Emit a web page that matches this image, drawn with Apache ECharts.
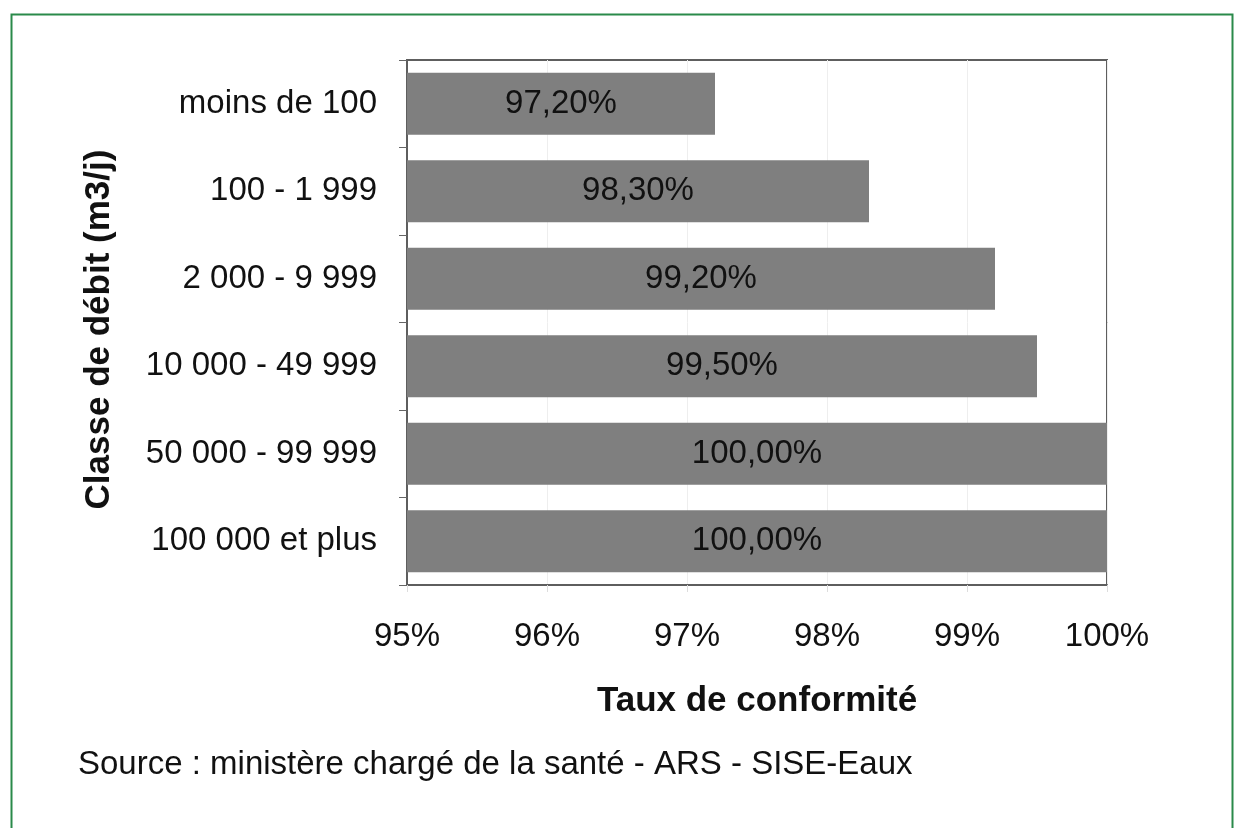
<!DOCTYPE html>
<html>
<head>
<meta charset="utf-8">
<script src="https://cdn.jsdelivr.net/npm/echarts@6/dist/echarts.min.js"></script>
<style>
  html, body { margin: 0; padding: 0; background: #fff; }
  #chart { width: 1243px; height: 828px; }
</style>
</head>
<body>
<div id="chart"></div>
<script>
var categories = ['moins de 100', '100 - 1 999', '2 000 - 9 999', '10 000 - 49 999', '50 000 - 99 999', '100 000 et plus']
var tauxConformite = [97.2, 98.3, 99.2, 99.5, 100, 100]
var xTicks = { min: 95, max: 100, interval: 1 }
var sourceText = 'Source : ministère chargé de la santé - ARS - SISE-Eaux'

var font = '"Liberation Sans", Arial, sans-serif'
var chart = echarts.init(document.getElementById('chart'))

var option = {
  animation: false,
  backgroundColor: '#fff',
  grid: {
    left: 407,
    top: 60,
    width: 700,
    height: 525,
    show: true,
    borderColor: '#5e5e5e',
    borderWidth: 2,
    backgroundColor: '#fff',
    outerBoundsMode: 'none'
  },
  xAxis: {
    type: 'value',
    min: xTicks.min,
    max: xTicks.max,
    interval: xTicks.interval,
    name: 'Taux de conformité',
    nameLocation: 'middle',
    nameGap: 99,
    nameTextStyle: {
      fontFamily: font,
      fontSize: 35,
      fontWeight: 'bold',
      color: '#111'
    },
    axisLine: { show: true, lineStyle: { color: '#5e5e5e', width: 2 } },
    axisTick: { show: true, length: 7, lineStyle: { color: '#ddd' } },
    axisLabel: {
      margin: 35,
      fontFamily: font,
      fontSize: 33,
      color: '#111',
      formatter: '{value}%'
    },
    splitLine: { show: true, lineStyle: { color: '#eee', width: 1 } }
  },
  yAxis: {
    type: 'category',
    inverse: true,
    data: categories,
    name: 'Classe de débit (m3/j)',
    nameLocation: 'middle',
    nameGap: 290,
    nameTextStyle: {
      fontFamily: font,
      fontSize: 35,
      fontWeight: 'bold',
      color: '#111',
      padding: [0, 14, 0, 0]
    },
    axisLine: { show: true, lineStyle: { color: '#5e5e5e', width: 2 } },
    axisTick: { show: true, length: 8, lineStyle: { color: '#666' } },
    axisLabel: {
      margin: 30,
      fontFamily: font,
      fontSize: 33,
      color: '#111'
    }
  },
  series: [{
    type: 'bar',
    data: tauxConformite,
    barWidth: 62,
    itemStyle: { color: '#7f7f7f' },
    label: {
      show: true,
      position: 'inside',
      fontFamily: font,
      fontSize: 33,
      color: '#111',
      formatter: function (p) {
        return p.value.toFixed(2).replace('.', ',') + '%'
      }
    }
  }],
  graphic: [
    {
      type: 'rect',
      left: 9,
      top: 12,
      shape: { width: 1221, height: 900 },
      style: { fill: 'none', stroke: '#2a8a4a', lineWidth: 2 },
      silent: true
    },
    {
      type: 'text',
      left: 78,
      top: 748,
      style: {
        text: sourceText,
        fontFamily: font,
        fontSize: 33,
        fill: '#111'
      }
    }
  ]
}

chart.setOption(option)
</script>
</body>
</html>
